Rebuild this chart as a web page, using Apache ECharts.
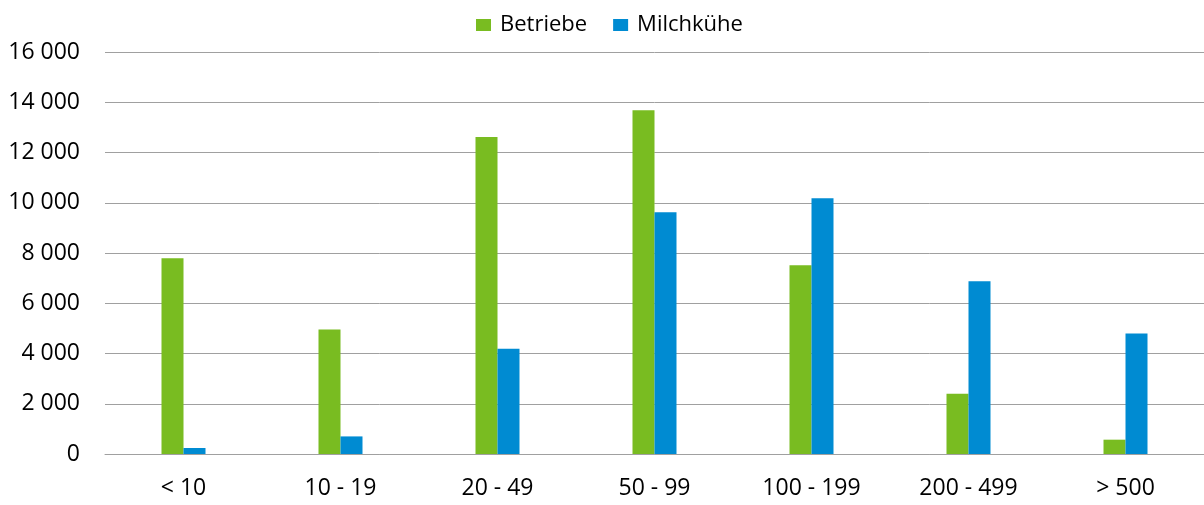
<!DOCTYPE html>
<html>
<head>
<meta charset="utf-8">
<script src="https://cdn.jsdelivr.net/npm/echarts@6/dist/echarts.min.js"></script>
<style>
html,body{margin:0;padding:0;background:#fff;}
#chart{width:1204px;height:505px;}
</style>
</head>
<body>
<div id="chart"></div>
<script>
const categories = ['< 10', '10 - 19', '20 - 49', '50 - 99', '100 - 199', '200 - 499', '> 500'];
const betriebe = [7790, 4960, 12620, 13680, 7510, 2400, 570];
const milchkuehe = [240, 700, 4190, 9620, 10180, 6880, 4800];
const seriesNames = ['Betriebe', 'Milchkühe'];
const yMin = 0, yMax = 16000, yStep = 2000;

const font = '"Open Sans", "Liberation Sans", sans-serif';
const chart = echarts.init(document.getElementById('chart'));
chart.setOption({
  animation: false,
  backgroundColor: '#ffffff',
  textStyle: { fontFamily: font },
  legend: {
    data: seriesNames,
    left: 471,
    top: 9,
    itemWidth: 15,
    itemHeight: 12,
    itemGap: 26,
    icon: 'rect',
    textStyle: { fontFamily: font, fontSize: 22, color: '#000000', padding: [0, 0, 0, 4] }
  },
  grid: { left: 105, width: 1103, top: 52, bottom: 51, containLabel: false },
  xAxis: {
    type: 'category',
    data: categories,
    axisTick: { show: false },
    axisLine: { show: true, lineStyle: { color: '#a0a0a0', width: 1 } },
    axisLabel: { fontFamily: font, fontSize: 23, color: '#000000', margin: 23, interval: 0 }
  },
  yAxis: {
    type: 'value',
    min: yMin, max: yMax, interval: yStep,
    axisLine: { show: false },
    axisTick: { show: false },
    splitLine: { lineStyle: { color: '#a0a0a0', width: 1 } },
    axisLabel: {
      fontFamily: font, fontSize: 23, color: '#000000', margin: 25,
      formatter: v => String(v).replace(/\B(?=(\d{3})+(?!\d))/g, ' ')
    }
  },
  series: [
    { name: seriesNames[0], type: 'bar', data: betriebe, barWidth: 22, barGap: '0%',
      itemStyle: { color: '#79bc21' } },
    { name: seriesNames[1], type: 'bar', data: milchkuehe, barWidth: 22, barGap: '0%',
      itemStyle: { color: '#008bd2' } }
  ]
});
</script>
</body>
</html>
